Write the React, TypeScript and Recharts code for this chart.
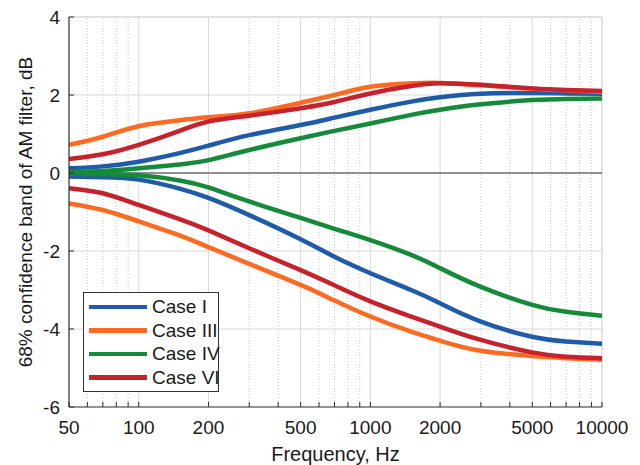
import React from "react";
import {
  LineChart,
  Line,
  XAxis,
  YAxis,
  ReferenceLine,
  Legend,
  Label,
} from "recharts";

const FREQS = [50, 70, 100, 150, 200, 300, 500, 700, 1000, 1500, 2000, 3000, 5000, 7000, 10000];

const CASE_I_UP = [0.12, 0.17, 0.29, 0.51, 0.7, 0.97, 1.23, 1.42, 1.62, 1.83, 1.94, 2.03, 2.05, 2.04, 2.03];
const CASE_I_LO = [-0.09, -0.11, -0.17, -0.4, -0.64, -1.08, -1.7, -2.15, -2.57, -3.0, -3.34, -3.81, -4.2, -4.32, -4.38];
const CASE_III_UP = [0.72, 0.93, 1.2, 1.35, 1.43, 1.53, 1.8, 2.0, 2.21, 2.3, 2.31, 2.25, 2.16, 2.12, 2.08];
const CASE_III_LO = [-0.78, -0.95, -1.24, -1.6, -1.9, -2.33, -2.87, -3.27, -3.68, -4.07, -4.3, -4.56, -4.69, -4.75, -4.79];
const CASE_IV_UP = [0.02, 0.05, 0.12, 0.22, 0.33, 0.59, 0.89, 1.08, 1.27, 1.49, 1.62, 1.76, 1.87, 1.9, 1.91];
const CASE_IV_LO = [-0.01, -0.03, -0.06, -0.19, -0.37, -0.73, -1.15, -1.43, -1.72, -2.1, -2.44, -2.92, -3.38, -3.56, -3.66];
const CASE_VI_UP = [0.36, 0.48, 0.72, 1.08, 1.32, 1.47, 1.66, 1.82, 2.04, 2.23, 2.3, 2.26, 2.17, 2.13, 2.1];
const CASE_VI_LO = [-0.39, -0.52, -0.82, -1.18, -1.47, -1.93, -2.49, -2.88, -3.29, -3.68, -3.94, -4.28, -4.6, -4.71, -4.75];

const X_MAJOR = [50, 100, 200, 500, 1000, 2000, 5000, 10000];
const X_MINOR = [60, 70, 80, 90, 300, 400, 600, 700, 800, 900, 3000, 4000, 6000, 7000, 8000, 9000];
const Y_TICKS = [-6, -4, -2, 0, 2, 4];

const CASES = [
  { name: "Case I", up: "iUp", lo: "iLo", color: "#1f5ba8" },
  { name: "Case III", up: "iiiUp", lo: "iiiLo", color: "#ff6a22" },
  { name: "Case IV", up: "ivUp", lo: "ivLo", color: "#168a3b" },
  { name: "Case VI", up: "viUp", lo: "viLo", color: "#c6222b" },
];

const data = FREQS.map((f, i) => ({
  f,
  iUp: CASE_I_UP[i],
  iLo: CASE_I_LO[i],
  iiiUp: CASE_III_UP[i],
  iiiLo: CASE_III_LO[i],
  ivUp: CASE_IV_UP[i],
  ivLo: CASE_IV_LO[i],
  viUp: CASE_VI_UP[i],
  viLo: CASE_VI_LO[i],
}));

const FONT = '"Liberation Sans", Arial, Helvetica, sans-serif';
const AXIS = "#2a2a2a";
const GRID = "#d9d9d9";

const X_TICK_MARGIN = 14;
const Y_TICK_MARGIN = 9;

function XTick(props: any) {
  const { x, y, payload } = props;
  const isMajor = X_MAJOR.includes(payload.value);
  const axisY = y - X_TICK_MARGIN;
  return (
    <g>
      <line x1={x} x2={x} y1={axisY} y2={axisY - 5} stroke={AXIS} strokeWidth={1} />
      {isMajor && (
        <text x={x} y={y} dy="0.71em" textAnchor="middle" fontSize={19} fontFamily={FONT} fill="#1a1a1a">
          {payload.value}
        </text>
      )}
    </g>
  );
}

function YTick(props: any) {
  const { x, y, payload } = props;
  const axisX = x + Y_TICK_MARGIN;
  return (
    <g>
      <line x1={axisX} x2={axisX + 5} y1={y} y2={y} stroke={AXIS} strokeWidth={1} />
      <text x={x} y={y} dy="0.355em" textAnchor="end" fontSize={19} fontFamily={FONT} fill="#1a1a1a">
        {payload.value}
      </text>
    </g>
  );
}

function CaseLegend() {
  return (
    <div
      style={{
        border: "1.5px solid #333",
        background: "#fff",
        padding: "2px 0",
        width: 136,
        boxSizing: "border-box",
        fontFamily: FONT,
        whiteSpace: "nowrap",
        lineHeight: 1,
      }}
    >
      {CASES.map((c) => (
        <div key={c.name} style={{ display: "flex", alignItems: "center", height: 23.5 }}>
          <div style={{ width: 58, height: 4.5, background: c.color, marginLeft: 5, marginRight: 5, flex: "none" }} />
          <span style={{ fontSize: 19, color: "#1a1a1a" }}>{c.name}</span>
        </div>
      ))}
    </div>
  );
}

export default function App() {
  return (
    <div style={{ position: "absolute", left: 0, top: 0, width: 640, height: 465, background: "#fff" }}>
      <LineChart width={640} height={465} data={data} margin={{ top: 17, right: 38, bottom: 0, left: 0 }}>
        {X_MAJOR.slice(1, -1).map((v) => (
          <ReferenceLine key={"M" + v} x={v} stroke={GRID} strokeWidth={1} />
        ))}
        {X_MINOR.map((v) => (
          <ReferenceLine key={"m" + v} x={v} stroke="#c8c8c8" strokeWidth={1} strokeDasharray="1 2" />
        ))}
        {[-4, -2, 2].map((v) => (
          <ReferenceLine key={"h" + v} y={v} stroke={GRID} strokeWidth={1} />
        ))}
        <ReferenceLine y={4} stroke={GRID} strokeWidth={1.5} />
        <ReferenceLine x={10000} stroke={GRID} strokeWidth={1.5} />
        <ReferenceLine y={0} stroke="#6b6b6b" strokeWidth={1.5} />
        <XAxis
          dataKey="f"
          type="number"
          scale="log"
          domain={[50, 10000]}
          ticks={[...X_MAJOR, ...X_MINOR].sort((a, b) => a - b)}
          interval={0}
          height={58}
          tickSize={0}
          tickMargin={X_TICK_MARGIN}
          tick={<XTick />}
          axisLine={{ stroke: AXIS, strokeWidth: 1.2 }}
          allowDataOverflow
        >
          <Label
            content={(p: any) => {
              const vb = p.viewBox;
              return (
                <text x={vb.x + vb.width / 2} y={vb.y + 54} textAnchor="middle" fontSize={20} fontFamily={FONT} fill="#1a1a1a">
                  Frequency, Hz
                </text>
              );
            }}
          />
        </XAxis>
        <YAxis
          type="number"
          domain={[-6, 4]}
          ticks={Y_TICKS}
          interval={0}
          width={69}
          tickSize={0}
          tickMargin={Y_TICK_MARGIN}
          tick={<YTick />}
          axisLine={{ stroke: AXIS, strokeWidth: 1.2 }}
          allowDataOverflow
        >
          <Label
            content={(p: any) => {
              const vb = p.viewBox;
              const cx = vb.x + 25;
              const cy = vb.y + vb.height / 2;
              return (
                <text
                  x={cx}
                  y={cy}
                  transform={`rotate(-90 ${cx} ${cy})`}
                  textAnchor="middle"
                  dominantBaseline="central"
                  fontSize={19}
                  fontFamily={FONT}
                  fill="#1a1a1a"
                >
                  68% confidence band of AM filter, dB
                </text>
              );
            }}
          />
        </YAxis>
        {CASES.flatMap((c) => [
          <Line
            key={c.up}
            type="natural"
            dataKey={c.up}
            stroke={c.color}
            strokeWidth={4.5}
            dot={false}
            isAnimationActive={false}
          />,
          <Line
            key={c.lo}
            type="natural"
            dataKey={c.lo}
            stroke={c.color}
            strokeWidth={4.5}
            dot={false}
            isAnimationActive={false}
          />,
        ])}
        <Legend
          layout="vertical"
          align="center"
          verticalAlign="middle"
          content={<CaseLegend />}
          wrapperStyle={{ left: 83, top: 292, width: 136, height: 99 }}
        />
      </LineChart>
    </div>
  );
}
